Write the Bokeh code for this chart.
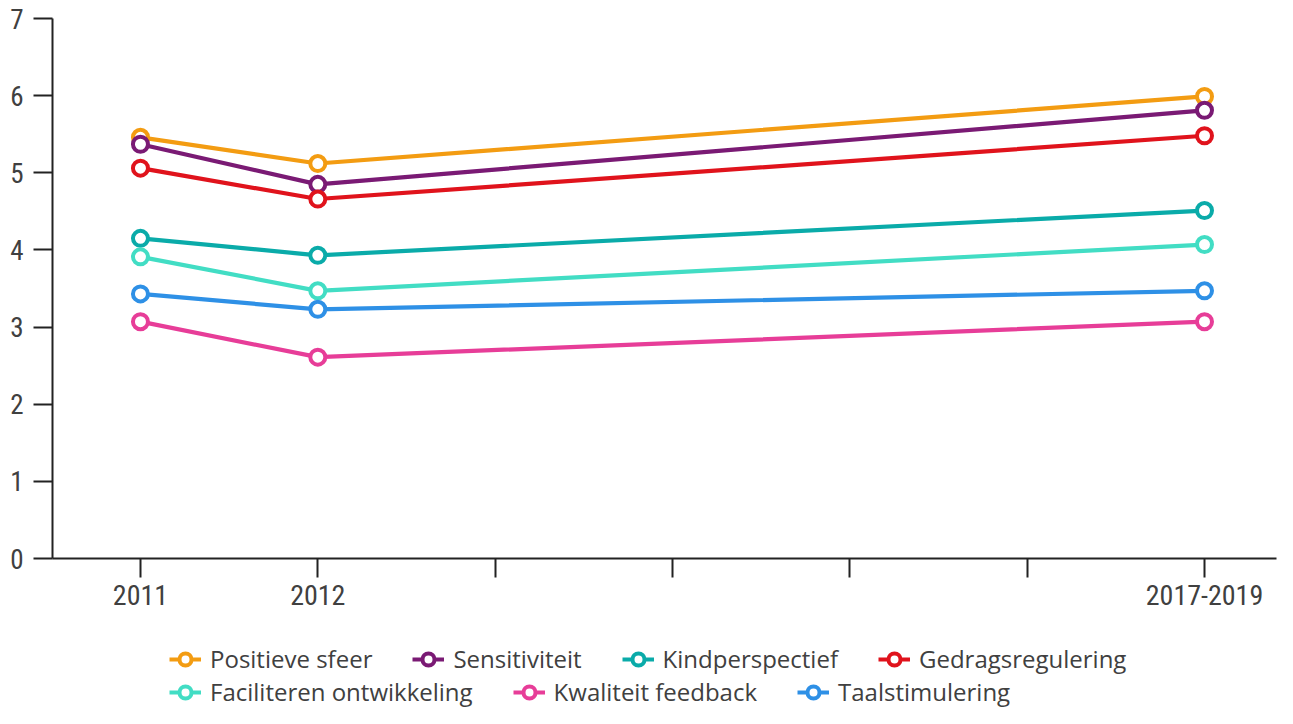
from bokeh.plotting import figure
from bokeh.layouts import column
from bokeh.models import FixedTicker, Range1d, Legend, LegendItem
from bokeh.embed import file_html
from bokeh.resources import INLINE

# positions on the x axis (0 = 2011, 1 = 2012, 6 = 2017-2019)
x_pos = [0, 1, 6]
tick_positions = [0, 1, 2, 3, 4, 5, 6]
tick_labels = ["2011", "2012", "", "", "", "", "2017-2019"]

series_names = ["Positieve sfeer", "Sensitiviteit", "Kindperspectief", "Gedragsregulering",
                "Faciliteren ontwikkeling", "Kwaliteit feedback", "Taalstimulering"]
positieve_sfeer = [5.46, 5.12, 5.99]
sensitiviteit = [5.37, 4.85, 5.81]
kindperspectief = [4.15, 3.93, 4.51]
gedragsregulering = [5.06, 4.66, 5.48]
faciliteren = [3.91, 3.47, 4.07]
kwaliteit_feedback = [3.07, 2.61, 3.07]
taalstimulering = [3.43, 3.23, 3.47]
series_values = [positieve_sfeer, sensitiviteit, kindperspectief, gedragsregulering,
                 faciliteren, kwaliteit_feedback, taalstimulering]
colors = ["#F39C12", "#7A1A74", "#0AABA9", "#E0131C", "#42DDC4", "#E73D98", "#2E90E6"]

y_ticks = [0, 1, 2, 3, 4, 5, 6, 7]

AXIS_FONT = "'Liberation Sans Narrow', 'Roboto Condensed', 'DejaVu Sans Condensed', sans-serif"
TEXT_COLOR = "#404040"

p = figure(width=1277, height=615, output_backend="svg", toolbar_location=None,
           x_range=Range1d(-0.496, 6.406), y_range=Range1d(0, 7),
           min_border_left=52, min_border_right=1, min_border_top=18, min_border_bottom=57)
p.outline_line_color = None
p.xgrid.visible = False
p.ygrid.visible = False
p.background_fill_color = "white"
p.border_fill_color = "white"

for ax in (p.xaxis[0], p.yaxis[0]):
    ax.axis_line_color = "#222222"
    ax.axis_line_width = 2
    ax.major_tick_line_color = "#222222"
    ax.major_tick_line_width = 2
    ax.minor_tick_line_color = None
    ax.major_tick_in = 0
    ax.major_tick_out = 19
    ax.major_label_text_font = AXIS_FONT
    ax.major_label_text_color = TEXT_COLOR

p.yaxis.major_label_text_font_size = "27px"
p.xaxis.major_label_text_font_size = "28px"
p.yaxis.ticker = FixedTicker(ticks=y_ticks)
p.yaxis.major_label_standoff = 10
p.xaxis.ticker = FixedTicker(ticks=tick_positions)
p.xaxis.major_label_overrides = {t: l for t, l in zip(tick_positions, tick_labels)}
p.xaxis.major_label_standoff = 7

for vals, col in zip(series_values, colors):
    p.line(x_pos, vals, line_color=col, line_width=4.2)
    p.scatter(x_pos, vals, size=15, marker="circle", fill_color="white",
              line_color=col, line_width=4)

# legend strip below the chart (its series lie outside its visible range)
lg_fig = figure(width=1277, height=93, output_backend="svg", toolbar_location=None,
                x_range=Range1d(100, 101), y_range=Range1d(100, 101),
                x_axis_type=None, y_axis_type=None, min_border=0)
lg_fig.outline_line_color = None
lg_fig.xgrid.visible = False
lg_fig.ygrid.visible = False

items = []
for name, vals, col in zip(series_names, series_values, colors):
    l = lg_fig.line(x_pos, vals, line_color=col, line_width=4)
    s = lg_fig.scatter(x_pos, vals, size=15, marker="circle", fill_color="white",
                       line_color=col, line_width=4)
    items.append(LegendItem(label=name, renderers=[l, s]))

def make_legend(its, y):
    return Legend(items=its, orientation="horizontal", location=(117, y),
                  label_text_font="Open Sans", label_text_font_size="24px",
                  label_text_color=TEXT_COLOR, glyph_width=32, glyph_height=30,
                  label_height=26, label_standoff=9, spacing=40, padding=0, margin=0,
                  border_line_color=None, background_fill_alpha=0)

lg_fig.add_layout(make_legend(items[:4], 33), "center")
lg_fig.add_layout(make_legend(items[4:], 0), "center")

open("out.html", "w").write(file_html(column(p, lg_fig, spacing=0), INLINE))
